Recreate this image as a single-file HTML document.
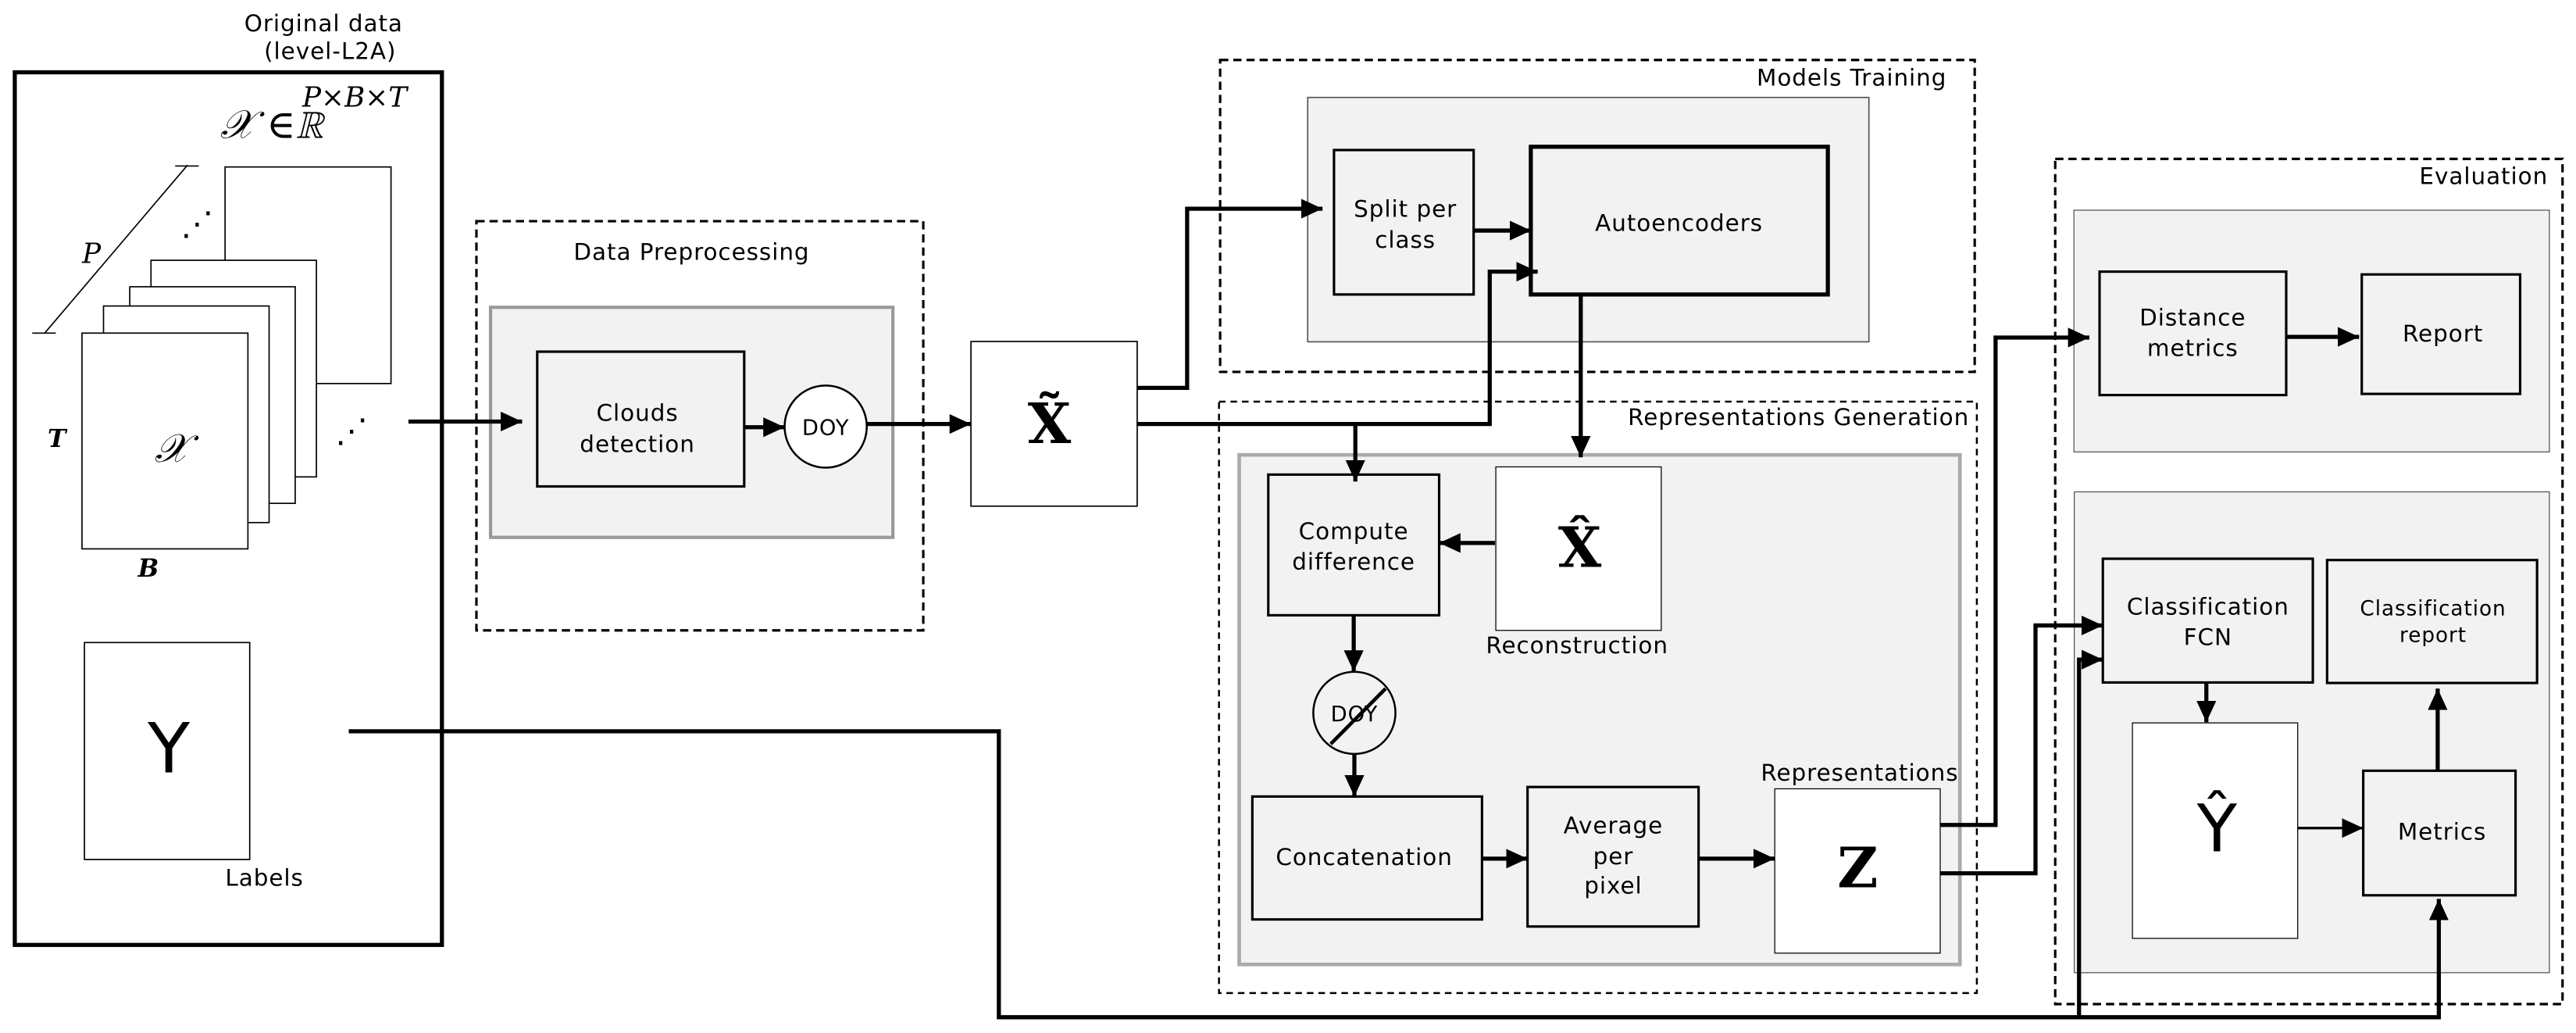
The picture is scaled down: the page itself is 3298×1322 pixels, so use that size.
<!DOCTYPE html>
<html><head><meta charset="utf-8"><style>
html,body{margin:0;padding:0;background:#fff;}
svg{display:block;}
text{font-family:"DejaVu Sans","Liberation Sans",sans-serif;fill:#000;}
.s{font-family:"DejaVu Serif","Liberation Serif",serif;}
.t text{letter-spacing:0.45px;}
</style></head><body>
<svg width="3298" height="1322" viewBox="0 0 1568 628.6" preserveAspectRatio="none" xmlns="http://www.w3.org/2000/svg">
<defs>
<marker id="a" markerUnits="userSpaceOnUse" markerWidth="14" markerHeight="12" refX="13" refY="6" orient="auto">
<path d="M0,0 L13,6 L0,12 z" fill="#000"/>
</marker>
</defs>
<g fill="none" stroke="#000">
<rect x="9" y="44" width="260" height="531" stroke-width="2.5"/>
<rect x="137" y="101.6" width="101" height="131.8" fill="#fff" stroke-width="0.8"/>
<rect x="91.9" y="158.4" width="100.7" height="131.8" fill="#fff" stroke-width="0.8"/>
<rect x="79" y="174.5" width="100.7" height="131.8" fill="#fff" stroke-width="0.8"/>
<rect x="63" y="186.2" width="100.8" height="131.8" fill="#fff" stroke-width="0.8"/>
<rect x="49.9" y="202.7" width="101" height="131.3" fill="#fff" stroke-width="0.8"/>
<line x1="114.2" y1="100.4" x2="27.2" y2="202.7" stroke-width="0.8"/>
<line x1="106.6" y1="101" x2="121" y2="101" stroke-width="0.8"/>
<line x1="19.6" y1="202.7" x2="34" y2="202.7" stroke-width="0.8"/>
<rect x="51.4" y="391" width="100.6" height="132" fill="#fff" stroke-width="0.8"/>
<rect x="290" y="134.6" width="272" height="249" stroke-width="1.5" stroke-dasharray="5,3"/>
<rect x="298.6" y="187" width="244.9" height="140" fill="#f2f2f2" stroke="#999" stroke-width="2"/>
<rect x="327" y="214" width="126" height="82" fill="#f2f2f2" stroke-width="1.5"/>
<circle cx="502.6" cy="259.6" r="25" fill="#fff" stroke-width="1.2"/>
<rect x="591" y="207.8" width="101.2" height="100.2" fill="#fff" stroke-width="0.8"/>
<rect x="742.7" y="36.5" width="459.3" height="189.8" stroke-width="1.5" stroke-dasharray="5,3"/>
<rect x="796" y="59.3" width="341.6" height="148.7" fill="#f2f2f2" stroke="#555" stroke-width="0.8"/>
<rect x="812" y="91.3" width="85" height="87.9" fill="#f2f2f2" stroke-width="1.5"/>
<rect x="931.8" y="89.3" width="180.8" height="89.9" fill="#f2f2f2" stroke-width="2.5"/>
<rect x="742" y="244.4" width="461.3" height="359.9" stroke-width="1.2" stroke-dasharray="4,3"/>
<rect x="754.3" y="276.8" width="438.7" height="310.1" fill="#f2f2f2" stroke="#aaa" stroke-width="2.2"/>
<rect x="772" y="288.8" width="104" height="85.6" fill="#f2f2f2" stroke-width="1.5"/>
<rect x="910.5" y="284.1" width="100.7" height="99.5" fill="#fff" stroke-width="0.6"/>
<circle cx="824.4" cy="433.8" r="25" fill="#f2f2f2" stroke-width="1.2"/>
<rect x="762.3" y="484.7" width="139.8" height="74.8" fill="#f2f2f2" stroke-width="1.5"/>
<rect x="929.8" y="478.9" width="104.1" height="84.9" fill="#f2f2f2" stroke-width="1.5"/>
<rect x="1080.3" y="480" width="100.7" height="100" fill="#fff" stroke-width="0.6"/>
<rect x="1251" y="96.7" width="308.8" height="514.3" stroke-width="1.5" stroke-dasharray="5,3"/>
<rect x="1262.4" y="127.9" width="289.4" height="147.1" fill="#f2f2f2" stroke="#555" stroke-width="0.6"/>
<rect x="1278" y="165.3" width="113.6" height="75.1" fill="#f2f2f2" stroke-width="1.5"/>
<rect x="1437.6" y="167" width="96.4" height="72.7" fill="#f2f2f2" stroke-width="1.5"/>
<rect x="1262.6" y="299.3" width="289.2" height="292.6" fill="#f2f2f2" stroke="#555" stroke-width="0.6"/>
<rect x="1280" y="340" width="127.8" height="75.3" fill="#f2f2f2" stroke-width="1.5"/>
<rect x="1416.5" y="340.8" width="127.8" height="74.8" fill="#f2f2f2" stroke-width="1.5"/>
<rect x="1298" y="439.9" width="100.6" height="131.1" fill="#fff" stroke-width="0.6"/>
<rect x="1438.5" y="469" width="92.7" height="75.8" fill="#f2f2f2" stroke-width="1.5"/>
</g>
<g fill="none" stroke="#000" stroke-width="2.5">
<line x1="248.6" y1="256.5" x2="317.8" y2="256.5" marker-end="url(#a)"/>
<line x1="453" y1="260" x2="477.6" y2="260" marker-end="url(#a)"/>
<line x1="527.6" y1="258" x2="591" y2="258" marker-end="url(#a)"/>
<polyline points="692,236 722.6,236 722.6,127 805,127" marker-end="url(#a)"/>
<polyline points="692,258 906.8,258 906.8,165.3 936,165.3" marker-end="url(#a)"/>
<line x1="825" y1="258" x2="825" y2="293" marker-end="url(#a)"/>
<line x1="897" y1="140.3" x2="932" y2="140.3" marker-end="url(#a)"/>
<line x1="962.2" y1="179.2" x2="962.2" y2="278.3" marker-end="url(#a)"/>
<line x1="910" y1="330.4" x2="876" y2="330.4" marker-end="url(#a)"/>
<line x1="824" y1="374.4" x2="824" y2="408.7" marker-end="url(#a)"/>
<line x1="824.4" y1="459" x2="824.4" y2="484.7" marker-end="url(#a)"/>
<line x1="902.1" y1="522.5" x2="929.8" y2="522.5" marker-end="url(#a)"/>
<line x1="1033.9" y1="522.5" x2="1080.3" y2="522.5" marker-end="url(#a)"/>
<polyline points="1181,502 1214.7,502 1214.7,205.4 1271.8,205.4" marker-end="url(#a)"/>
<polyline points="1181,531.4 1239,531.4 1239,380.6 1280,380.6" marker-end="url(#a)"/>
<line x1="1391.6" y1="205" x2="1436" y2="205" marker-end="url(#a)"/>
<line x1="1343" y1="415.3" x2="1343" y2="439.5" marker-end="url(#a)"/>
<line x1="1398.6" y1="503.9" x2="1438.5" y2="503.9" stroke-width="1.5" marker-end="url(#a)"/>
<line x1="1483.8" y1="469" x2="1483.8" y2="419" marker-end="url(#a)"/>
<polyline points="212.3,445 608,445 608,619 1484.5,619 1484.5,547" marker-end="url(#a)"/>
<polyline points="1265.5,619 1265.5,401.4 1280,401.4" marker-end="url(#a)"/>
</g>
<g font-size="14" text-anchor="middle" class="t">
<text x="197" y="19">Original data</text>
<text x="201" y="36">(level-L2A)</text>
<text x="421" y="158">Data Preprocessing</text>
<text x="388" y="256">Clouds</text>
<text x="388" y="275">detection</text>
<text x="502.6" y="264.5" font-size="13">DOY</text>
<text x="1185" y="52" text-anchor="end">Models Training</text>
<text x="855.4" y="132">Split per</text>
<text x="855.4" y="150.7">class</text>
<text x="1022" y="140.6">Autoencoders</text>
<text x="1198.7" y="258.7" text-anchor="end">Representations Generation</text>
<text x="824" y="328">Compute</text>
<text x="824" y="346.6">difference</text>
<text x="960" y="397.5">Reconstruction</text>
<text x="824.4" y="438.8" font-size="13">DOY</text>
<text x="830.4" y="526.3">Concatenation</text>
<text x="982" y="507">Average</text>
<text x="982" y="526">per</text>
<text x="982" y="543.7">pixel</text>
<text x="1132" y="475">Representations</text>
<text x="1551" y="112" text-anchor="end">Evaluation</text>
<text x="1334.7" y="198">Distance</text>
<text x="1334.7" y="216.7">metrics</text>
<text x="1487" y="207.7">Report</text>
<text x="1344" y="374">Classification</text>
<text x="1344" y="392.6">FCN</text>
<text x="1481" y="374.5" font-size="12.5">Classification</text>
<text x="1481" y="390.5" font-size="12.5">report</text>
<text x="1486.5" y="511">Metrics</text>
<text x="161" y="539">Labels</text>
<text x="103" y="470" font-size="42">Y</text>
<text x="1349.7" y="518" font-size="40">Ŷ</text>
<text class="s" x="639" y="269.6" font-size="34" font-weight="bold">X̃</text>
<text class="s" x="961.8" y="345" font-size="34" font-weight="bold">X̂</text>
<text class="s" x="1131" y="540" font-size="34" font-weight="bold">Z</text>
</g>
<g font-style="italic">
<text class="s" x="134" y="84" font-size="24">𝒳 ∈ℝ</text>
<text class="s" x="184" y="65" font-size="17">P×B×T</text>
<text class="s" x="50" y="160" font-size="17">P</text>
<text class="s" x="29" y="272" font-size="15" font-weight="bold">T</text>
<text class="s" x="84" y="351" font-size="15" font-weight="bold">B</text>
<text class="s" x="94" y="281" font-size="24">𝒳</text>
<text class="s" x="110" y="143" font-size="20" font-style="normal">⋰</text>
<text class="s" x="204" y="269" font-size="20" font-style="normal">⋰</text>
</g>
<line x1="810" y1="452.7" x2="843.4" y2="419" stroke="#000" stroke-width="2.2"/>
</svg>
</body></html>
